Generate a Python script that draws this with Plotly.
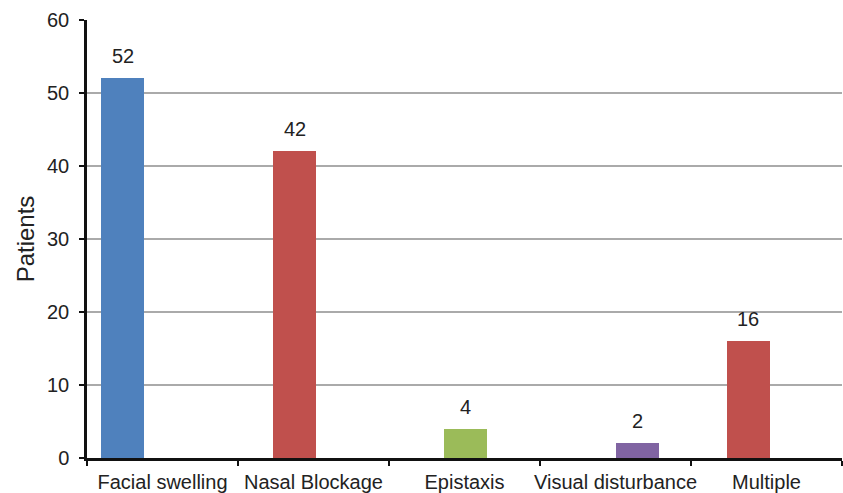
import plotly.graph_objects as go

categories = ["Facial swelling", "Nasal Blockage", "Epistaxis", "Visual disturbance", "Multiple"]
patients = [52, 42, 4, 2, 16]

# styling
colors = ["#4f81bd", "#c0504d", "#9bbb59", "#8064a2", "#c0504d"]
bar_width = 0.285
bar_offsets = [-0.407, -0.268, -0.136, 0.0, -0.262]

fig = go.Figure()
fig.add_trace(go.Bar(
    x=categories, y=patients, width=bar_width, offset=bar_offsets,
    marker=dict(color=colors, line=dict(width=0)),
    showlegend=False,
))

for i, v in enumerate(patients):
    fig.add_annotation(x=i + bar_offsets[i] + bar_width / 2, y=v, xref="x", yref="y",
                       text=str(v), showarrow=False, yshift=22, yanchor="middle",
                       font=dict(size=20, color="#222222", family="Liberation Sans, Arial"))

fig.update_layout(
    width=843, height=493,
    margin=dict(l=87, r=1, t=20, b=35, autoexpand=False),
    plot_bgcolor="white", paper_bgcolor="white",
    font=dict(family="Liberation Sans, Arial", size=20, color="#222222"),
    bargap=0,
    xaxis=dict(
        type="category", tickson="boundaries", ticks="outside", ticklen=5, tickwidth=1.5,
        tickcolor="#111111", showline=True, linecolor="#111111", linewidth=2.5,
        showgrid=False, range=[-0.5, 4.5], tickfont=dict(size=20), tickangle=0,
        automargin=False, ticklabelstandoff=4,
    ),
    yaxis=dict(
        range=[0, 60], dtick=10, ticks="outside", ticklen=5, tickwidth=1.5, tickcolor="#111111",
        showline=True, linecolor="#111111", linewidth=2.5,
        showgrid=True, gridcolor="#aaaaaa", gridwidth=1.5, zeroline=False,
        ticklabelstandoff=6, tickfont=dict(size=20), automargin=False,
        title=dict(text="Patients", font=dict(size=24), standoff=6),
    ),
)

fig.write_html("out.html")
